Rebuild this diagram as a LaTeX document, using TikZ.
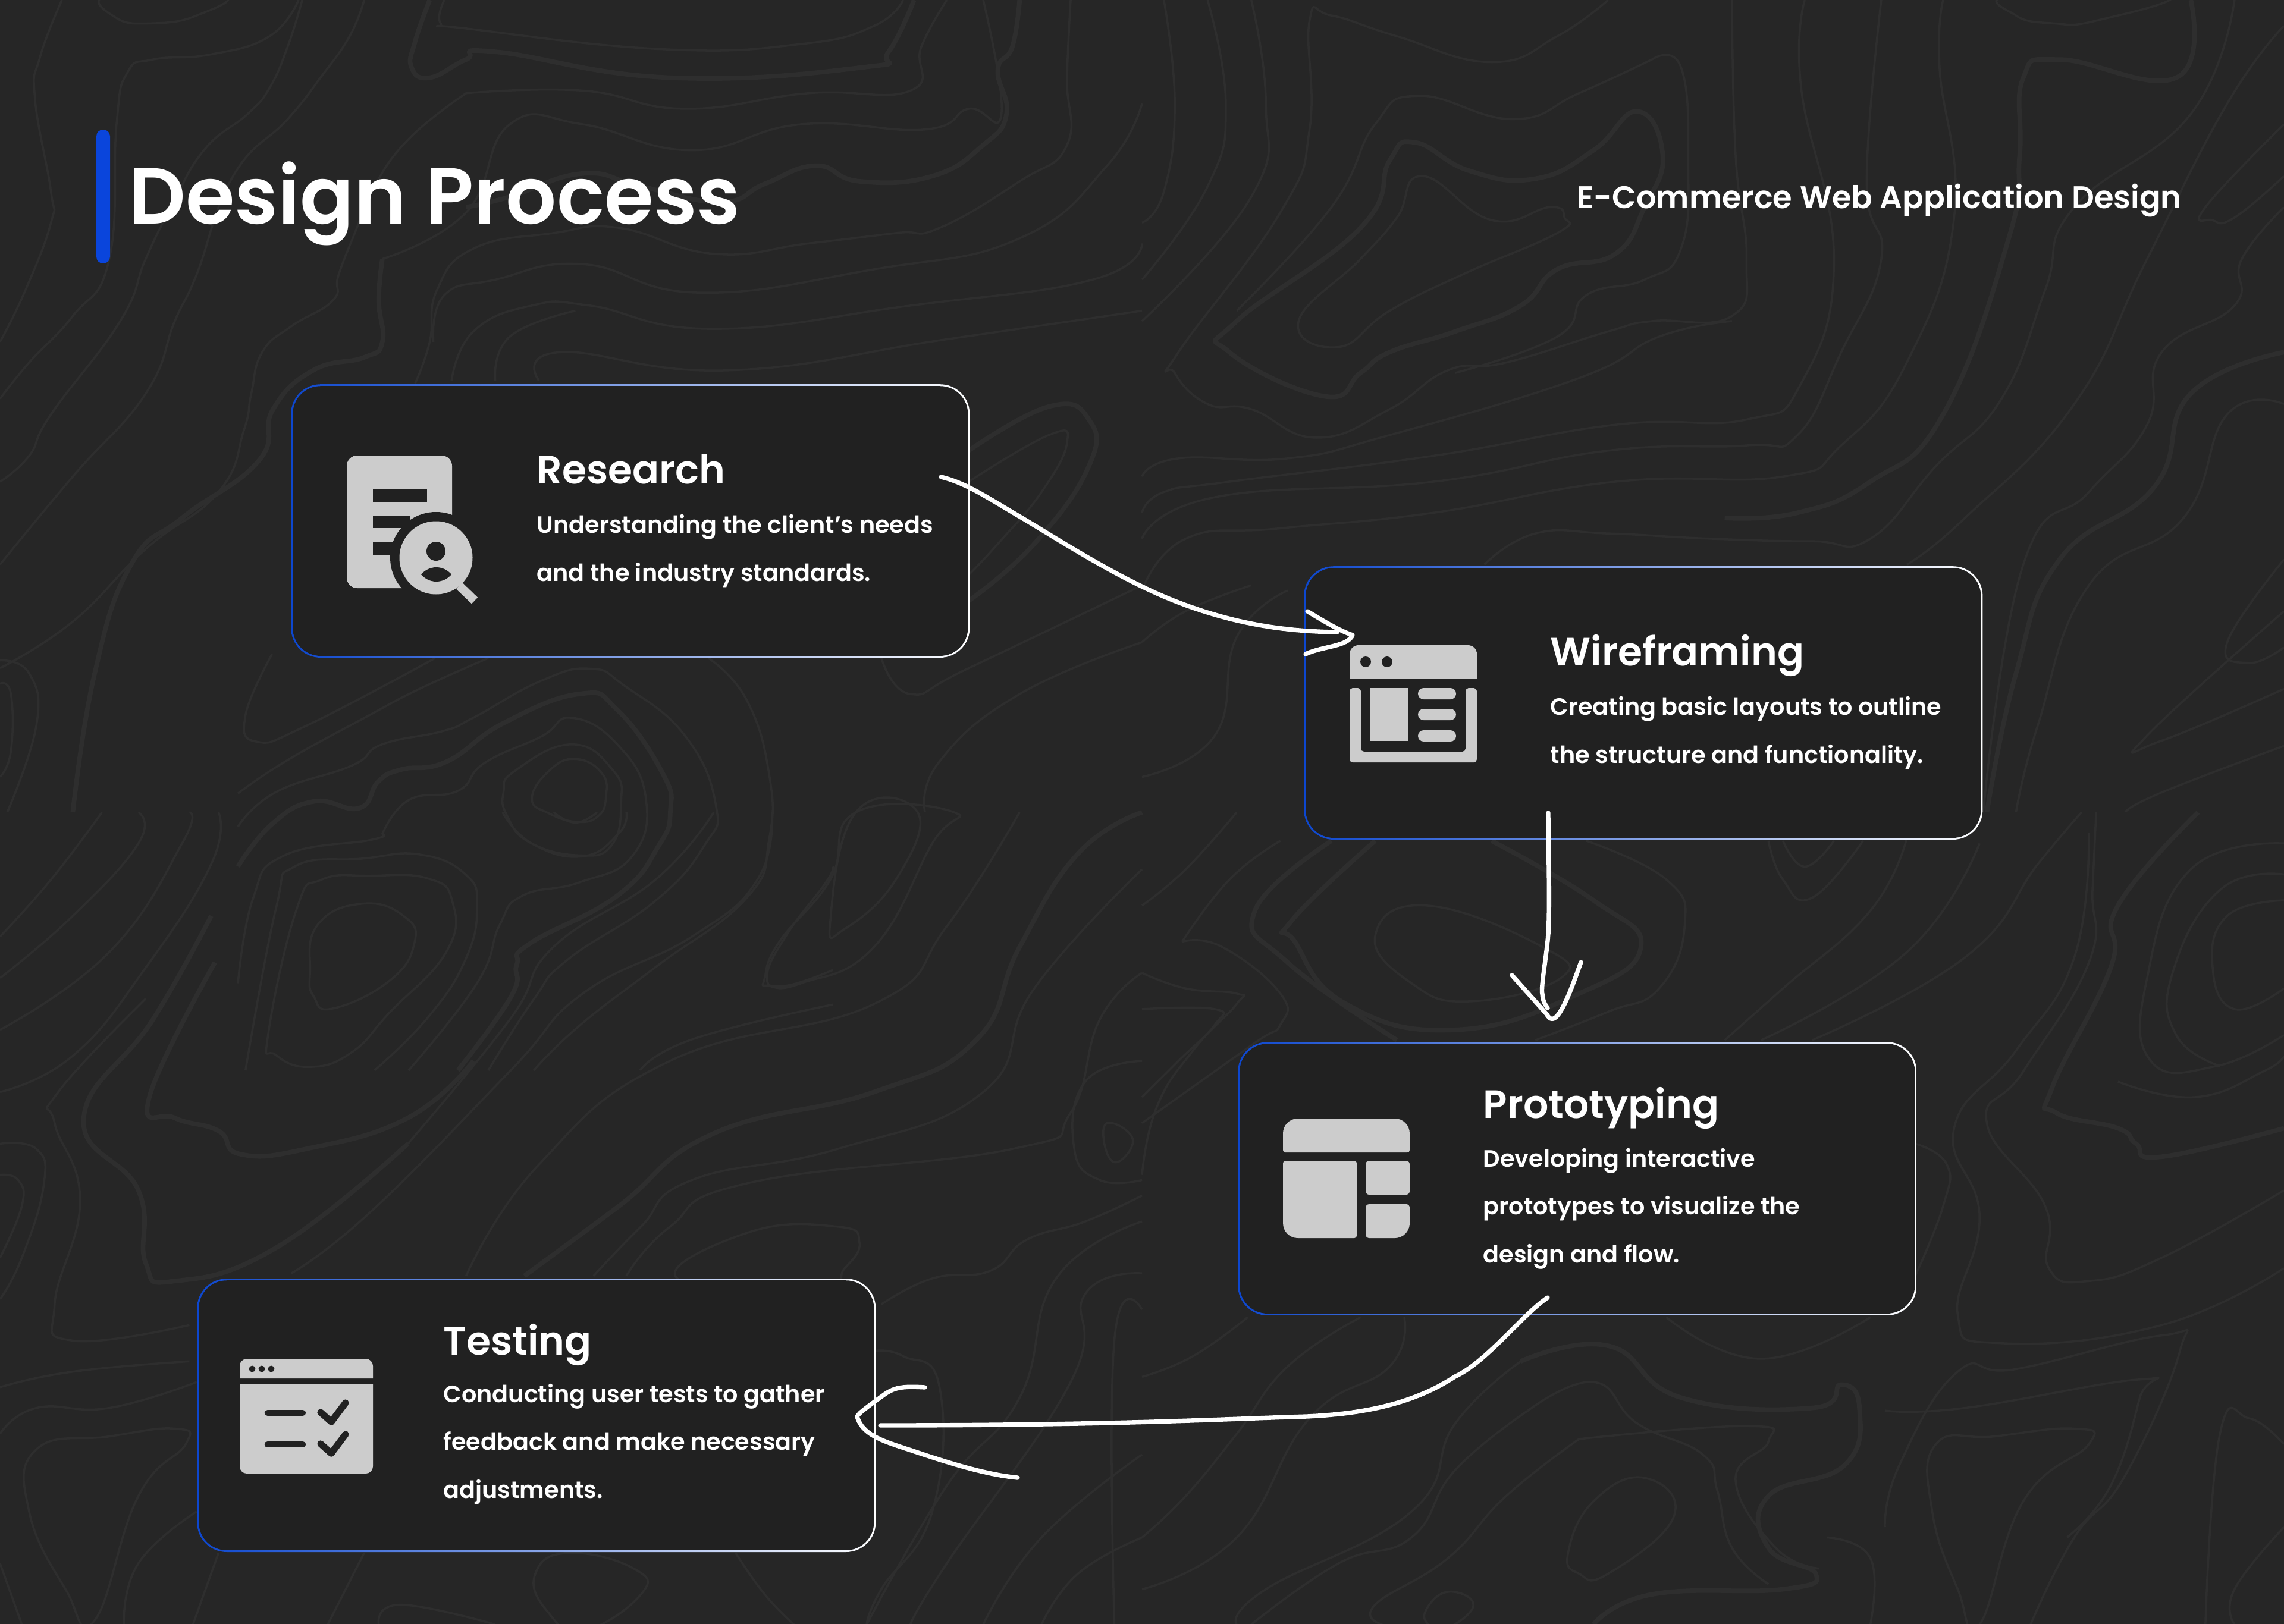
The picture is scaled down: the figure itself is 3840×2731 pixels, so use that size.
\documentclass[tikz,border=0pt]{standalone}
\usepackage{fontspec}
\setmainfont{Poppins}
\newfontfamily\popmed{Poppins Medium}
\newfontfamily\popsemi{Poppins SemiBold}
\usetikzlibrary{calc}
\definecolor{pagedark}{HTML}{262626}
\definecolor{topogray}{HTML}{2E2E2E}
\definecolor{carddark}{HTML}{212121}
\definecolor{edgeblue}{HTML}{0D47CF}
\definecolor{edgemid}{HTML}{6C8CDA}
\definecolor{barblue}{HTML}{0A45DC}
\definecolor{icongray}{HTML}{CCCCCC}
\tikzset{
  topoline/.style={draw=topogray,line width=1pt,line join=round},
  topothick/.style={draw=topogray,line width=2.2pt,line join=round},
  quadone/.style={xscale=1.2245,yscale=0.871},
  quadtwo/.style={shift={(1920,0)},xscale=1.2245,yscale=0.871},
  quadthree/.style={shift={(0,1366)},xscale=1.2245,yscale=0.871},
  quadfour/.style={shift={(1920,1366)},xscale=1.2245,yscale=0.871},
  midpatch/.style={shift={(400,1100)},xscale=0.6378,yscale=0.4464},
  cardedge/.style={anchor=north west,inner sep=0pt,minimum width=11.405cm,minimum height=4.595cm,rounded corners=14.2pt,left color=edgeblue,middle color=edgemid,right color=white},
  cardbox/.style={inner sep=0pt,minimum width=11.345cm,minimum height=4.535cm,rounded corners=13.4pt,fill=carddark},
  cardhead/.style={anchor=base west,inner sep=0pt,text=white,font=\popsemi\fontsize{18.9}{23}\selectfont},
  cardtext/.style={anchor=base west,inner sep=0pt,text=white,align=left,font=\popsemi\fontsize{11.3}{22.76}\selectfont},
  handline/.style={draw=white,line width=2.1pt,line cap=round,line join=round},
}
\newcommand{\topo}[1]{\draw[topoline] plot[smooth,tension=.8] coordinates {#1};}
\newcommand{\topoc}[1]{\draw[topoline] plot[smooth cycle,tension=.8] coordinates {#1};}
\newcommand{\topot}[1]{\draw[topothick] plot[smooth,tension=.8] coordinates {#1};}
\begin{document}
\begin{tikzpicture}[x=0.01cm,y=-0.01cm]
\useasboundingbox (0,0) rectangle (3840,2731);
\fill[pagedark] (0,0) rectangle (3840,2731);
% contour lines, top left
\begin{scope}[quadone]
\topoc{(150,-10)(160,35)(210,45)(270,30)(305,-10)}
\topo{(85,0)(55,110)(48,190)(70,370)(70,430)(35,560)(0,660)}
\topo{(410,0)(370,70)(290,105)(210,115)(175,140)(160,240)(150,500)(100,610)(40,700)(0,770)}
\topo{(415,0)(395,90)(370,170)(340,220)(280,290)(235,400)(200,500)(165,620)(70,800)(40,880)(0,930)}
\topo{(500,0)(480,70)(440,150)(395,230)(320,340)(270,530)(240,620)(200,760)(100,920)(0,1090)}
\topo{(610,0)(605,45)(640,55)(910,95)(1100,85)(1200,50)(1240,0)}
\topot{(590,0)(570,80)(565,130)(590,150)(640,115)(680,100)(920,150)(1185,130)(1220,100)(1255,0)}
\topo{(640,180)(800,175)(940,210)(1110,180)(1250,175)(1265,90)(1300,0)}
\topo{(640,180)(560,270)(510,370)(490,440)(465,530)(457,580)(400,630)(360,680)(345,760)(335,830)(300,950)(200,1060)(100,1200)(0,1290)}
\topot{(525,500)(520,580)(525,660)(500,690)(430,715)(375,790)(355,890)(250,1000)(180,1090)(130,1300)(100,1568)}
\topo{(525,500)(640,410)(700,240)(800,240)(950,290)(1100,240)(1270,250)(1330,210)(1375,220)(1350,0)}
\topot{(1400,0)(1390,90)(1370,135)(1382,220)(1350,280)(1280,340)(1180,350)(1120,320)(1050,355)(990,390)(880,360)(800,335)(700,380)(640,400)}
\topo{(1470,0)(1465,150)(1465,280)(1400,350)(1290,440)(1230,450)(1110,470)(980,490)(850,440)(760,450)(650,480)(600,560)(590,660)(570,740)}
\topo{(620,735)(650,640)(730,590)(810,590)(980,635)(1250,590)(1500,540)(1568,470)}
\topo{(680,735)(700,650)(790,600)}
\topo{(740,735)(770,680)(1000,715)(1300,655)(1568,600)}
\topo{(595,660)(610,570)(680,540)(800,510)(960,565)(1200,520)(1400,460)(1520,320)(1568,200)}
\topot{(1330,870)(1440,785)(1495,810)(1495,900)(1420,1050)(1330,1160)}
\topo{(1330,930)(1440,840)(1465,855)(1430,950)(1370,1050)(1330,1110)}
\topo{(0,1275)(40,1300)(50,1400)(10,1568)}
\topo{(0,1320)(15,1340)(15,1450)(0,1500)}
\topo{(1210,1270)(1250,1340)(1330,1290)(1568,1130)}
\topo{(1568,1240)(1400,1340)(1290,1470)(1270,1568)}
\end{scope}
% contour lines, top right
\begin{scope}[quadtwo]
\topo{(30,0)(45,200)(30,370)(0,430)}
\topo{(90,0)(115,200)(90,360)(0,540)}
\topo{(150,0)(170,200)(150,380)(0,620)}
\topo{(640,0)(570,70)(480,120)(350,70)(260,30)(230,40)(230,250)(190,410)(50,680)(45,720)(90,780)(150,790)(240,845)(340,790)(420,715)(500,700)(640,640)(700,620)(810,610)(830,500)(815,300)(810,0)}
\topo{(700,115)(600,180)(510,230)(380,185)(320,240)(260,400)(130,600)}
\topo{(700,115)(740,130)(750,310)(740,480)(690,540)(610,570)(570,650)(430,720)}
\draw[topothick] plot[smooth cycle,tension=.8] coordinates {(120,680)(250,765)(300,720)(340,680)(430,640)(520,590)(570,520)(650,490)(690,400)(715,300)(680,215)(620,290)(540,345)(450,330)(375,275)(340,310)(300,440)(130,620)};
\topoc{(215,620)(270,670)(340,600)(440,530)(570,450)(580,420)(560,400)(480,425)(385,340)(350,420)(300,500)}
\topo{(810,620)(710,650)(600,730)(340,840)(200,885)(50,885)(0,920)}
\topo{(910,0)(905,170)(950,500)(905,740)(830,810)(650,820)(400,880)(120,930)(30,950)(0,990)}
\topo{(1015,0)(995,350)(1015,500)(960,680)(900,840)(830,860)(640,870)(400,930)(100,960)(0,1040)}
\topo{(1100,0)(1095,130)(1115,420)(1050,700)(960,860)(880,920)(650,930)(400,990)(190,1020)(60,1040)(0,1140)}
\topoc{(1195,-10)(1200,30)(1250,45)(1310,40)(1410,-10)}
\topot{(1440,0)(1420,150)(1260,115)(1210,150)(1205,300)(1190,460)(1100,800)(1000,930)(900,990)(800,1000)}
\topo{(1500,0)(1440,220)(1280,400)(1240,560)(1180,770)(1090,900)(1000,1040)(920,1045)(780,1040)(640,1030)(540,1030)(470,1090)}
\topo{(1568,50)(1490,200)(1380,500)(1280,780)(1130,1000)(1050,1090)}
\topo{(1568,240)(1460,400)(1470,425)(1500,420)(1568,340)}
\topo{(1568,400)(1510,500)(1500,590)(1400,680)(1380,820)(1300,950)(1210,1090)(1155,1568)}
\topot{(1568,680)(1440,760)(1390,940)(1260,1080)(1200,1300)(1160,1568)}
\topo{(1568,780)(1490,800)(1430,1000)(1300,1130)(1230,1400)(1200,1568)}
\topo{(1568,1080)(1490,1240)(1520,1280)(1568,1250)}
\topo{(1568,1180)(1380,1420)(1400,1430)(1568,1330)}
\topo{(0,1500)(100,1420)(130,1230)(200,1140)}
\topo{(0,1240)(60,1180)(150,1130)}
\topo{(1568,1440)(1400,1530)(1350,1568)}
\end{scope}
% contour lines, bottom left
\begin{scope}[quadthree]
\topo{(0,240)(70,130)(140,0)}
\topo{(0,320)(100,200)(190,60)(190,0)}
\topo{(0,420)(150,270)(250,60)(260,0)}
\topo{(0,540)(100,470)(200,300)(290,100)(300,0)}
\topo{(0,640)(50,650)(60,720)(30,860)(0,940)}
\topo{(0,700)(25,710)(30,760)(0,860)}
\topot{(290,200)(210,400)(115,590)(190,730)(200,870)(240,905)(380,840)(560,640)}
\topo{(200,360)(80,540)(75,600)(110,750)(75,950)(100,1020)(260,990)}
\topot{(295,290)(205,550)(240,590)(300,615)(330,660)(420,650)(560,590)(650,480)}
\topo{(0,1110)(100,1080)(260,1060)}
\topo{(0,1200)(50,1150)(150,1150)(270,1100)}
\topoc{(40,1350)(50,1230)(150,1205)(240,1190)(255,1220)(190,1320)(130,1560)(90,1500)}
\topo{(0,1450)(30,1568)}
\topo{(270,1350)(190,1450)(170,1568)}
\topo{(300,1430)(265,1568)}
\topoc{(735,1470)(780,1430)(870,1460)(880,1510)(800,1580)(750,1540)}
\topo{(520,1568)(550,1530)(680,1568)}
\topo{(1010,1430)(1050,1510)(1090,1568)}
\topo{(500,1430)(450,1568)}
\topo{(690,0)(730,60)(800,85)(850,40)(860,0)}
\topo{(760,0)(790,20)(820,0)}
\topoc{(1050,320)(1070,250)(1140,130)(1175,0)(1310,0)(1280,60)(1200,260)(1100,330)(1055,335)}
\topoc{(1140,210)(1160,225)(1230,130)(1260,0)(1175,0)}
\topo{(1060,0)(1040,130)(950,240)(800,350)(700,500)(510,770)(400,890)}
\topo{(980,0)(900,130)(760,260)(700,400)(560,640)}
\topot{(1568,0)(1480,80)(1400,260)(1340,440)(1200,540)(980,620)(850,760)(720,895)}
\topo{(1568,110)(1420,340)(1350,540)(1150,650)(950,710)(880,800)(815,895)}
\topo{(1568,310)(1510,400)(1470,580)(1390,650)(1030,715)(920,800)(860,895)}
\topo{(1400,0)(1300,220)(1200,370)(920,480)(740,680)(640,895)}
\topo{(1568,740)(1490,790)(1410,825)(1360,885)(1280,900)(1210,950)}
\topoc{(930,900)(1030,810)(1150,800)(1180,830)(1160,880)(1120,920)}
\topo{(1568,480)(1490,520)(1475,650)(1510,710)(1568,710)}
\topoc{(1520,600)(1555,630)(1535,675)(1518,650)}
\topo{(1568,790)(1450,900)(1400,1130)(1300,1300)(1190,1568)}
\topo{(1568,890)(1490,930)(1470,1100)(1300,1450)(1250,1568)}
\topo{(1568,1400)(1480,1470)(1430,1568)}
\topo{(1530,1568)(1530,1020)(1568,960)}
\topo{(1200,1040)(1240,1050)(1290,1110)(1280,1350)(1210,1500)(1190,1568)}
\topo{(1568,1240)(1430,1400)(1350,1568)}
\end{scope}
% contour lines, bottom right
\begin{scope}[quadfour]
\topo{(0,180)(60,110)(130,0)}
\topot{(320,55)(205,210)(210,250)(280,370)(430,420)(600,350)(685,260)(620,170)(480,55)}
\topot{(260,55)(155,190)(200,290)(350,440)}
\topo{(610,55)(720,130)(745,220)(710,340)(640,385)(540,440)}
\topoc{(320,240)(390,180)(550,260)(575,320)(450,365)(370,330)}
\topo{(55,250)(110,260)(190,350)(190,410)(150,450)(0,600)}
\topo{(55,250)(120,130)(190,55)}
\topo{(0,310)(60,340)(130,350)(130,370)(70,460)(20,570)(0,700)}
\topo{(0,380)(100,380)(100,410)(50,480)(0,550)}
\topo{(860,55)(880,130)(920,165)(990,55)}
\topo{(880,55)(910,105)(950,55)}
\topo{(800,440)(880,340)(1000,190)(1050,50)}
\topo{(850,440)(1050,270)(1150,60)}
\topo{(920,440)(1130,280)(1230,100)(1290,0)}
\topot{(1568,610)(1400,665)(1365,640)(1340,610)(1255,580)(1250,530)(1330,300)(1340,180)(1450,0)}
\topo{(1568,60)(1440,110)(1380,320)(1385,480)(1475,490)(1568,430)}
\topo{(1568,120)(1480,150)(1415,310)(1420,430)(1480,490)}
\topo{(1568,170)(1490,200)(1470,300)(1500,380)(1568,340)}
\topo{(1340,520)(1445,550)(1540,500)(1568,470)}
\topo{(1568,730)(1400,860)(1300,905)(1245,880)(1240,760)(1160,600)(1210,500)(1300,290)(1305,150)(1310,0)}
\topo{(1568,880)(1400,990)(1180,1025)(1120,970)(1150,780)(1115,610)(1200,460)(1280,280)(1300,40)}
\topo{(1062,640)(1105,680)(1100,760)(1060,900)}
\topo{(0,1090)(70,1050)(145,975)}
\topo{(300,975)(200,1070)(130,1200)(60,1320)(0,1400)}
\topo{(360,975)(340,1070)(230,1170)(130,1400)(0,1500)}
\topo{(720,975)(850,1055)(1000,975)}
\topot{(520,1060)(640,1030)(740,1130)(920,1150)(960,1105)(985,1150)(965,1260)(860,1320)(860,1420)(925,1470)(880,1500)(700,1510)(620,1568)}
\topo{(520,1060)(430,1180)(370,1350)(170,1500)(130,1568)}
\topo{(530,1155)(620,1100)(680,1180)(770,1240)(790,1310)(810,1420)(860,1490)}
\topo{(530,1155)(430,1270)(370,1400)(270,1450)(150,1568)}
\topo{(600,1210)(830,1185)(860,1215)(815,1290)(870,1420)(930,1460)}
\topo{(600,1210)(500,1320)(420,1440)(320,1530)(330,1568)}
\topoc{(585,1430)(620,1330)(690,1285)(730,1360)(640,1470)(600,1470)}
\topoc{(390,1540)(420,1505)(455,1530)(420,1575)(395,1570)}
\topo{(1020,1380)(1040,1260)(1120,1080)(1200,1075)(1400,1010)(1425,1040)(1350,1280)(1280,1400)(1220,1568)}
\topoc{(1085,1350)(1090,1220)(1170,1205)(1280,1190)(1300,1220)(1210,1330)(1150,1568)(1120,1500)}
\topo{(1020,1155)(1130,1150)(1370,1095)(1370,1130)(1330,1300)(1270,1400)}
\topo{(1460,1568)(1480,1200)(1520,1170)(1568,1220)}
\topo{(940,1400)(1000,1440)(1000,1568)}
\topo{(1568,1380)(1500,1500)(1500,1568)}
\end{scope}
% contour lines, middle of the left side
\begin{scope}[midpatch]
\topoc{(775,545)(820,440)(890,395)(960,450)(970,540)(950,610)(895,632)(820,600)}
\topoc{(700,520)(730,440)(880,340)(990,440)(1010,560)(985,720)(900,758)(770,710)(710,610)}
\topo{(0,525)(130,400)(340,235)(480,130)(660,15)}
\topo{(90,0)(20,230)(50,330)(180,270)(520,15)}
\topo{(0,650)(100,520)(300,420)(380,340)(540,290)(620,240)(800,100)(930,55)(1020,120)(1180,310)(1260,570)(1230,720)(1100,930)(870,1150)(780,1300)(660,1568)}
\topot{(0,800)(90,640)(200,555)(320,580)(370,480)(430,435)(550,405)(700,260)(900,150)(1000,210)(1120,450)(1140,590)(1110,720)(1000,910)(770,1090)(735,1170)(720,1290)(580,1568)}
\topo{(380,680)(450,550)(580,515)(650,410)(800,310)(880,240)(1000,340)(1075,540)(1040,760)(900,860)(750,910)(690,1020)(630,1240)(450,1568)}
\topo{(0,1240)(40,920)(120,760)(350,700)(380,680)}
\topo{(20,1568)(100,960)(150,800)(330,770)(480,755)(600,830)(630,950)(600,1150)(500,1370)(360,1568)}
\topoc{(80,1430)(155,960)(220,850)(350,835)(500,845)(565,930)(550,1120)(400,1350)(300,1500)(190,1555)(100,1510)}
\topoc{(190,1200)(210,1020)(330,940)(440,990)(465,1090)(400,1230)(250,1335)(200,1290)}
\topo{(1240,15)(1340,170)(1400,450)(1400,700)(1340,920)(1100,1180)(900,1400)(780,1568)}
\topo{(1568,1190)(1440,1250)(1395,1210)(1450,1050)(1550,860)(1568,800)}
\topo{(1060,1568)(1200,1450)(1568,1320)}
\end{scope}
% heading
\fill[barblue,rounded corners=3.2pt] (162,218) rectangle (185,443);
\node[anchor=base west,inner sep=0pt,text=white,font=\popsemi\fontsize{38}{46}\selectfont] (pagetitle) at (216,377) {Design Process};
\node[anchor=base west,inner sep=0pt,text=white,font=\popsemi\fontsize{15}{20}\selectfont] (pagesub) at (2651,351) {E-Commerce Web Application Design};
% cards
\node[cardedge] (researchedge) at (488.5,645.5) {};
\node[cardbox] (research) at (researchedge.center) {};
\node[cardedge] (wireedge) at (2191.5,951.5) {};
\node[cardbox] (wireframing) at (wireedge.center) {};
\node[cardedge] (protoedge) at (2080.5,1751.5) {};
\node[cardbox] (prototyping) at (protoedge.center) {};
\node[cardedge] (testedge) at (330.5,2149.5) {};
\node[cardbox] (testing) at (testedge.center) {};
\node[cardhead] (researchhead) at (902,813) {Research};
\node[cardtext] (researchtext) at (902,977) {Understanding the client’s needs\\and the industry standards.};
\node[cardhead] (wirehead) at (2606,1119) {Wireframing};
\node[cardtext] (wiretext) at (2606,1283) {Creating basic layouts to outline\\the structure and functionality.};
\node[cardhead] (protohead) at (2493,1880) {Prototyping};
\node[cardtext] (prototext) at (2493,2123) {Developing interactive\\prototypes to visualize the\\design and flow.};
\node[cardhead] (testhead) at (745,2278) {Testing};
\node[cardtext] (testtext) at (745,2519) {Conducting user tests to gather\\feedback and make necessary\\adjustments.};
% research icon
\fill[icongray,rounded corners=5pt] (583,766) rectangle (760,989);
\fill[carddark] (627,822) rectangle (718,844);
\fill[carddark] (627,867) rectangle (690,888);
\fill[carddark] (627,912) rectangle (680,933);
\fill[carddark] (733,938) circle (77);
\fill[icongray] (733,938) circle (61.5);
\draw[icongray,line width=4.2pt] (772,985) -- (798,1010);
\fill[carddark] (733,927) circle (16);
\fill[carddark] (708,966) .. controls (722,950) and (745,950) .. (759,966) .. controls (745,982) and (722,982) .. (708,966) -- cycle;
% wireframing icon
\fill[icongray] (2269,1141) -- (2269,1100) arc[start angle=180,end angle=270,radius=15] -- (2468,1085) arc[start angle=270,end angle=360,radius=15] -- (2483,1141) -- cycle;
\fill[carddark] (2296,1113) circle (9);
\fill[carddark] (2332,1113) circle (9);
\fill[icongray,rounded corners=1.5pt] (2269,1157) -- (2269,1282) -- (2483,1282) -- (2483,1157) -- (2464,1157) -- (2464,1264) -- (2288,1264) -- (2288,1157) -- cycle;
\fill[icongray] (2304,1157) rectangle (2368,1246);
\fill[icongray,rounded corners=2.7pt] (2384,1157) rectangle (2448,1176);
\fill[icongray,rounded corners=2.7pt] (2384,1192) rectangle (2448,1211);
\fill[icongray,rounded corners=2.7pt] (2384,1228) rectangle (2448,1247);
% prototyping icon
\fill[icongray] (2157,1906) arc[start angle=180,end angle=270,radius=25] -- (2345,1881) arc[start angle=270,end angle=360,radius=25] -- (2370,1934) arc[start angle=0,end angle=90,radius=4] -- (2161,1938) arc[start angle=90,end angle=180,radius=4] -- cycle;
\fill[icongray] (2157,1956) arc[start angle=180,end angle=270,radius=4] -- (2277,1952) arc[start angle=270,end angle=360,radius=4] -- (2281,2078) arc[start angle=0,end angle=90,radius=4] -- (2182,2082) arc[start angle=90,end angle=180,radius=25] -- cycle;
\fill[icongray,rounded corners=1.7pt] (2296,1952) rectangle (2370,2009);
\fill[icongray] (2296,2031) arc[start angle=180,end angle=270,radius=6] -- (2364,2025) arc[start angle=270,end angle=360,radius=6] -- (2370,2057) arc[start angle=0,end angle=90,radius=25] -- (2302,2082) arc[start angle=90,end angle=180,radius=6] -- cycle;
% testing icon
\fill[icongray] (403,2318) -- (403,2297) arc[start angle=180,end angle=270,radius=12] -- (615,2285) arc[start angle=270,end angle=360,radius=12] -- (627,2318) -- cycle;
\fill[carddark] (424,2302) circle (5.5);
\fill[carddark] (440,2302) circle (5.5);
\fill[carddark] (456,2302) circle (5.5);
\fill[icongray] (403,2328) -- (403,2466) arc[start angle=180,end angle=90,radius=12] -- (615,2478) arc[start angle=90,end angle=0,radius=12] -- (627,2328) -- cycle;
\draw[carddark,line width=3pt,line cap=round] (450,2376) -- (509,2376);
\draw[carddark,line width=3pt,line cap=round] (450,2429) -- (509,2429);
\draw[carddark,line width=3.2pt,line cap=round,line join=round] (539,2375) -- (557,2391) -- (581,2359);
\draw[carddark,line width=3.2pt,line cap=round,line join=round] (539,2428) -- (557,2444) -- (581,2412);
% connector ends
\coordinate (researchout) at (1582,802);
\coordinate (wirein) at (2248,1063);
\coordinate (wireout) at (2603,1367);
\coordinate (protoin) at (2602,1695);
\coordinate (protoout) at (2602,2182);
\coordinate (testin) at (1480,2397);
% hand drawn arrows
\draw[handline] (researchout) .. controls (1625,812) and (1665,840) .. (1720,872) .. controls (1800,920) and (1900,985) .. (2000,1020) .. controls (2090,1052) and (2170,1062) .. (wirein);
\draw[handline] (2198,1028) .. controls (2225,1044) and (2250,1060) .. (2274,1068) .. controls (2265,1088) and (2225,1086) .. (2195,1100);
\draw[handline] (wireout) .. controls (2603,1430) and (2606,1520) .. (2603,1570) .. controls (2600,1610) and (2590,1660) .. (2593,1672) .. controls (2594,1684) and (2598,1690) .. (protoin);
\draw[handline] (2542,1640) -- (2600,1705) .. controls (2606,1716) and (2612,1716) .. (2620,1706) .. controls (2635,1685) and (2648,1645) .. (2658,1618);
\draw[handline] (protoout) .. controls (2560,2210) and (2500,2290) .. (2446,2315) .. controls (2370,2365) and (2280,2378) .. (2197,2382) .. controls (2060,2386) and (1880,2397) .. (testin);
\draw[handline] (1555,2333) .. controls (1510,2330) and (1500,2335) .. (1480,2350) .. controls (1460,2365) and (1445,2375) .. (1441,2382) .. controls (1450,2415) and (1490,2425) .. (1535,2440) .. controls (1600,2462) and (1660,2480) .. (1711,2485);
\end{tikzpicture}
\end{document}
